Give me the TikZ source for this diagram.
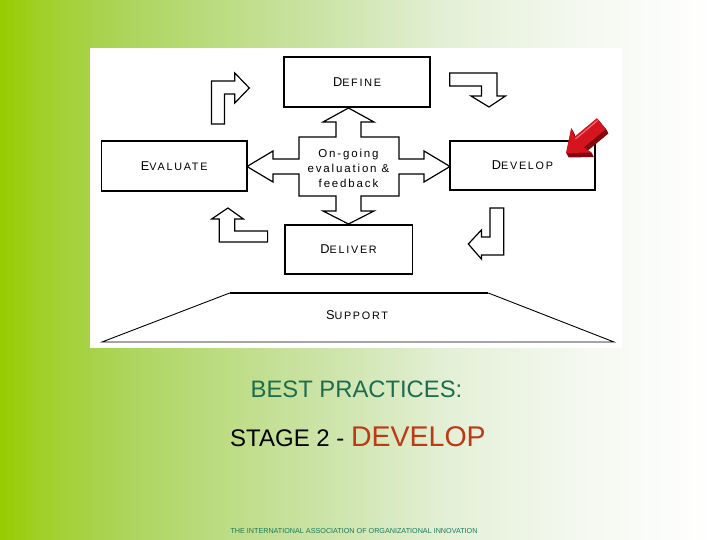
\documentclass[tikz,border=0pt]{standalone}
\usepackage{fontspec}
\setmainfont{Liberation Sans}
\newfontfamily\labfont[LetterSpace=16]{Liberation Sans}
\definecolor{g0}{RGB}{150,204,0}
\definecolor{g1}{RGB}{160,208,40}
\definecolor{g2}{RGB}{172,212,90}
\definecolor{g3}{RGB}{188,220,130}
\definecolor{g4}{RGB}{205,228,170}
\definecolor{g5}{RGB}{228,240,215}
\definecolor{g6}{RGB}{242,247,236}
\definecolor{g7}{RGB}{250,252,249}
\definecolor{g8}{RGB}{255,255,255}
\definecolor{bpgreen}{RGB}{28,108,80}
\definecolor{devred}{RGB}{190,58,20}
\definecolor{foot}{RGB}{25,120,90}
\definecolor{arrred}{RGB}{214,20,30}
\definecolor{arrdark}{RGB}{130,8,14}
\newcommand{\fsc}[2]{{\labfont\fontsize{12.8}{14}\selectfont #1}{\labfont\fontsize{10.8}{14}\selectfont #2}}
\tikzset{
  box/.style={draw=black, line width=1.7pt, fill=white, inner sep=0pt},
  shapeline/.style={draw=black, line width=1.2pt, fill=white, line join=miter},
  lbl/.style={inner sep=0pt}
}
\begin{document}
\begin{tikzpicture}[x=1pt,y=-1pt]
\useasboundingbox (0,0) rectangle (720,540);
% background gradient
\foreach \xa/\xb/\ca/\cb in {0/40/g0/g1,40/120/g1/g2,120/220/g2/g3,220/330/g3/g4,330/450/g4/g5,450/560/g5/g6,560/650/g6/g7,650/720/g7/g8}
  \fill[left color=\ca, right color=\cb] (\xa-0.3,0) rectangle (\xb+0.3,540);
% white panel
\fill[white] (90,48) rectangle (622,348);

% boxes
\node[box, minimum width=146pt, minimum height=50pt] (define) at (357,82) {\fsc{D}{EFINE}};
\node[box, minimum width=145.5pt, minimum height=50pt] (evaluate) at (174.2,166) {\fsc{E}{VALUATE}};
\node[box, minimum width=145.5pt, minimum height=49pt] (develop) at (522.5,165.5) {\fsc{D}{EVELOP}};
\node[box, minimum width=127.6pt, minimum height=49pt] (deliver) at (348.6,249.5) {\fsc{D}{ELIVER}};

% central four-way arrow
\draw[shapeline] (348.5,108) -- (374,122) -- (361,122) -- (361,137) -- (399,137) -- (399,159) -- (424,159) -- (424,151) -- (450,166.5) -- (424,182) -- (424,174) -- (399,174) -- (399,196) -- (361,196) -- (361,211) -- (374,211) -- (348.5,224) -- (323,211) -- (336,211) -- (336,196) -- (299,196) -- (299,174) -- (273,174) -- (273,182) -- (247,166.5) -- (273,151) -- (273,159) -- (299,159) -- (299,137) -- (336,137) -- (336,122) -- (323,122) -- cycle;
\node[lbl, align=center, font=\labfont\fontsize{11.5}{15}\selectfont] (ongoing) at (348.5,168) {On-going\\ evaluation \&\\ feedback};

% bent arrows
\draw[shapeline] (211.4,124) -- (211.4,81) -- (234.8,81) -- (234.8,73) -- (249.3,88) -- (234.8,103) -- (234.8,94) -- (224.5,94) -- (224.5,124) -- cycle;
\draw[shapeline] (449.7,73) -- (496.9,73) -- (496.9,96) -- (505.5,96) -- (489,107) -- (471,96) -- (481.4,96) -- (481.4,86) -- (449.7,86) -- cycle;
\draw[shapeline] (490,208) -- (503.8,208) -- (503.8,255) -- (481.4,255) -- (481.4,259) -- (468.3,244) -- (481.4,230) -- (481.4,237) -- (490,237) -- cycle;
\draw[shapeline] (267.6,242) -- (219.3,242) -- (219.3,219) -- (211.7,219) -- (227.9,208) -- (243.4,219) -- (234.8,219) -- (234.8,231) -- (267.6,231) -- cycle;

% red 3D arrow
\foreach \s in {0.5,1,...,4.5}
  \fill[arrdark, shift={(0.55*\s,\s)}] (566,153) -- (591.6,152.5) -- (583.6,147.5) -- (605.9,129) -- (596.9,118.2) -- (574.6,136.7) -- (571.2,127.9) -- cycle;
\fill[arrred] (566,153) -- (591.6,152.5) -- (583.6,147.5) -- (605.9,129) -- (596.9,118.2) -- (574.6,136.7) -- (571.2,127.9) -- cycle;
\draw[white, opacity=0.45, line width=1pt] (575.5,139) -- (597.5,120.5);

% support trapezoid
\draw[line width=1.8pt] (229.7,293) -- (488.3,293);
\draw[line width=0.9pt] (229.7,293) -- (102,342) -- (614,342) -- (488.3,293);
\node[lbl] (support) at (357,315) {\fsc{S}{UPPORT}};

% captions
\node[lbl, anchor=base] (bp) at (356.5,397) {\color{bpgreen}\fontsize{23.8}{28}\selectfont BEST PRACTICES:};
\node[lbl, anchor=base west] (stage) at (230,446) {\fontsize{24}{28}\selectfont STAGE 2 - \textcolor{devred}{\fontsize{28.5}{32}\selectfont DEVELOP}};
\node[lbl, anchor=base] (footer) at (354,533) {\color{foot}\fontsize{7.2}{8}\selectfont THE INTERNATIONAL ASSOCIATION OF ORGANIZATIONAL INNOVATION};
\end{tikzpicture}
\end{document}
